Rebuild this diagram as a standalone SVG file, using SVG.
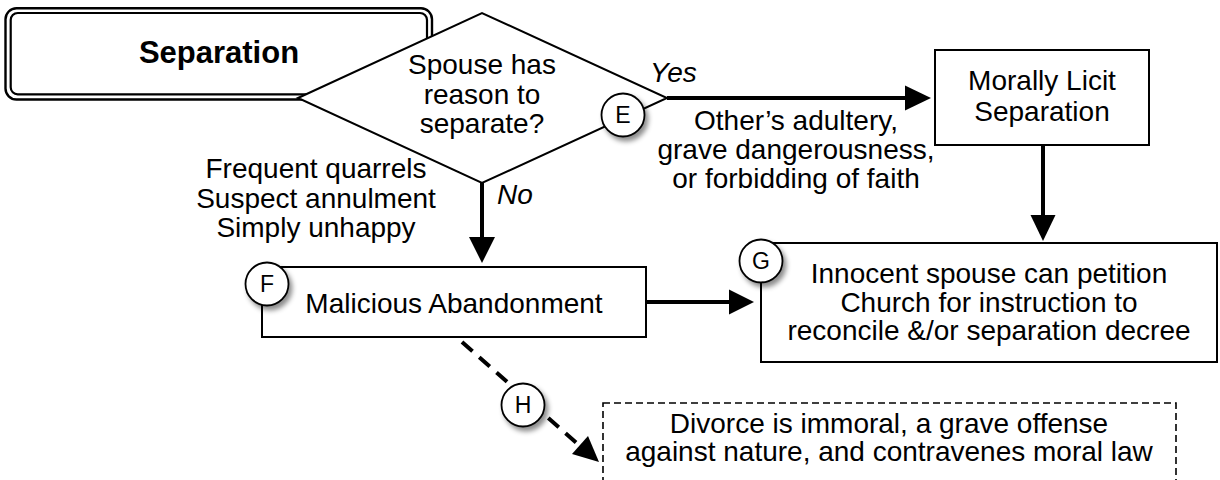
<svg xmlns="http://www.w3.org/2000/svg" width="1220" height="480" viewBox="0 0 1220 480">
<style>
text{font-family:"Liberation Sans",Arial,sans-serif;font-size:28px;fill:#000;text-anchor:middle}
.b{font-weight:bold;font-size:31px}
.i{font-style:italic;text-anchor:start}
.c{font-size:23px}
.box{fill:#fff;stroke:#000;stroke-width:2}
.dash{fill:#fff;stroke:#000;stroke-width:1.6;stroke-dasharray:7 4}
.ln{stroke:#000;stroke-width:4;fill:none}
.dl{stroke:#000;stroke-width:4;fill:none;stroke-dasharray:14 9}
.ah{fill:#000}
.circ{fill:#fff;stroke:#000;stroke-width:1.8;filter:url(#sh)}
</style>
<defs>
<filter id="sh" x="-50%" y="-50%" width="200%" height="200%">
<feDropShadow dx="3" dy="4" stdDeviation="2.5" flood-color="#000" flood-opacity="0.45"/>
</filter>
</defs>
<rect width="1220" height="480" fill="#fff"/>
<g id="connectors">
<line class="ln" x1="667" y1="98" x2="906" y2="98"/>
<polygon class="ah" points="931,98 905,85.5 905,110.5"/>
<line class="ln" x1="1043" y1="145" x2="1043" y2="216"/>
<polygon class="ah" points="1043,241 1030.5,215 1055.5,215"/>
<line class="ln" x1="482" y1="183" x2="482" y2="239"/>
<polygon class="ah" points="482,263 469,237 495,237"/>
<line class="ln" x1="646" y1="302" x2="730" y2="302"/>
<polygon class="ah" points="754,302 729,289.5 729,314.5"/>
<line class="dl" x1="462" y1="342" x2="580" y2="446"/>
<polygon class="ah" points="599,462 572,454 588,436"/>
<text class="i" x="650" y="82">Yes</text>
<text class="i" x="497" y="204">No</text>
<text x="796" y="130">Other’s adultery,</text>
<text x="796" y="159">grave dangerousness,</text>
<text x="796" y="188">or forbidding of faith</text>
<text x="316" y="178">Frequent quarrels</text>
<text x="316" y="208">Suspect annulment</text>
<text x="316" y="237">Simply unhappy</text>
</g>
<g id="separation">
<rect x="5.5" y="8.3" width="426.5" height="91.2" rx="11" fill="#fff" stroke="#000" stroke-width="2.4"/>
<rect x="10.7" y="13" width="416.3" height="81.3" rx="7" fill="none" stroke="#000" stroke-width="2.2"/>
<text class="b" x="219" y="63">Separation</text>
</g>
<g id="decision">
<polygon points="298,98 482,13 667,98 482,183" fill="#fff" stroke="#000" stroke-width="2"/>
<text x="482" y="74">Spouse has</text>
<text x="482" y="104">reason to</text>
<text x="482" y="133">separate?</text>
<circle class="circ" cx="623" cy="115" r="21.5"/>
<text class="c" x="623" y="123">E</text>
</g>
<g id="licit">
<rect class="box" x="935" y="50" width="214" height="95"/>
<text x="1042" y="90">Morally Licit</text>
<text x="1042" y="121">Separation</text>
</g>
<g id="abandonment">
<rect class="box" x="262" y="267" width="384" height="70"/>
<text x="454" y="313">Malicious Abandonment</text>
<circle class="circ" cx="267" cy="284" r="21.5"/>
<text class="c" x="267" y="292">F</text>
</g>
<g id="petition">
<rect class="box" x="761" y="243" width="456" height="119"/>
<text x="989" y="283">Innocent spouse can petition</text>
<text x="989" y="312">Church for instruction to</text>
<text x="989" y="340">reconcile &amp;/or separation decree</text>
<circle class="circ" cx="761" cy="261" r="21.5"/>
<text class="c" x="761" y="269">G</text>
</g>
<g id="divorce">
<rect class="dash" x="603" y="403" width="573" height="100"/>
<text x="889" y="433">Divorce is immoral, a grave offense</text>
<text x="889" y="461">against nature, and contravenes moral law</text>
</g>
<g id="h-label">
<circle class="circ" cx="523" cy="405" r="21.5"/>
<text class="c" x="523" y="413">H</text>
</g>
</svg>
